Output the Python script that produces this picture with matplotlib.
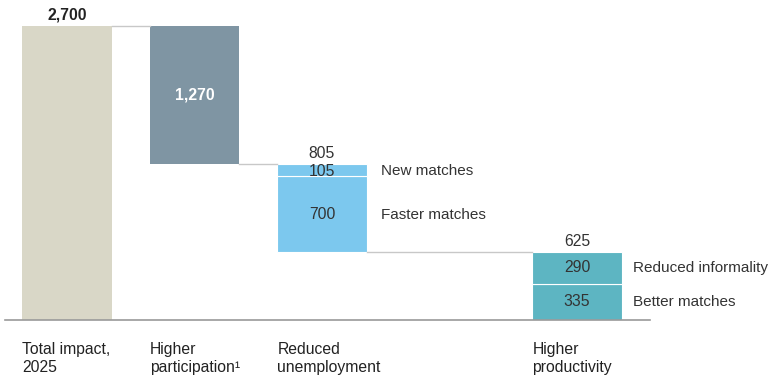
import matplotlib.pyplot as plt

plt.rcParams['font.family'] = ['Liberation Sans', 'DejaVu Sans']

# waterfall data
categories = ['Total impact,\n2025', 'Higher\nparticipation¹', 'Reduced\nunemployment', 'Higher\nproductivity']
positions = [0, 1, 2, 4]
totals = [2700, 1270, 805, 625]
total_labels = ['2,700', '1,270', '805', '625']

unemp_parts = [700, 105]          # bottom to top
unemp_names = ['Faster matches', 'New matches']
prod_parts = [335, 290]           # bottom to top
prod_names = ['Better matches', 'Reduced informality']

c_total = '#d9d7c7'
c_part = '#7f95a3'
c_unemp = '#7cc8ee'
c_prod = '#5db5c2'
c_line = '#c8c8c8'
width = 0.70
fs = 11.3

fig = plt.figure(figsize=(7.71, 3.81), dpi=100)
ax = fig.add_axes([0, 0, 1, 1])
ax.set_xlim(-0.5255, 5.522)
ax.set_ylim(-560.2, 2938.8)
ax.axis('off')

# bar 1: total
ax.bar(positions[0], totals[0], width, color=c_total)
ax.text(positions[0], totals[0] + 30, total_labels[0], ha='center', va='bottom',
        fontsize=fs, fontweight='bold', color='#222222')

# bar 2: higher participation
top2 = totals[0]
bot2 = top2 - totals[1]
ax.bar(positions[1], totals[1], width, bottom=bot2, color=c_part)
ax.text(positions[1], (top2 + bot2) / 2, total_labels[1], ha='center', va='center',
        fontsize=fs, fontweight='bold', color='white')

# bar 3: reduced unemployment, stacked
bot3 = bot2 - totals[2]
b = bot3
for val, name in zip(unemp_parts, unemp_names):
    ax.bar(positions[2], val, width, bottom=b, color=c_unemp, edgecolor='white', linewidth=0.8)
    ax.text(positions[2], b + val / 2 - 10, str(val), ha='center', va='center', fontsize=fs, color='#333333')
    ax.text(positions[2] + 0.46, b + val / 2 - 10, name, ha='left', va='center', fontsize=11, color='#333333')
    b += val
ax.text(positions[2], bot2 + 28, total_labels[2], ha='center', va='bottom', fontsize=fs, color='#333333')

# bar 4: higher productivity, stacked
b = 0
for val, name in zip(prod_parts, prod_names):
    ax.bar(positions[3], val, width, bottom=b, color=c_prod, edgecolor='white', linewidth=0.8)
    ax.text(positions[3], b + val / 2, str(val), ha='center', va='center', fontsize=fs, color='#333333')
    ax.text(positions[3] + 0.44, b + val / 2, name, ha='left', va='center', fontsize=11, color='#333333')
    b += val
ax.text(positions[3], totals[3] + 28, total_labels[3], ha='center', va='bottom', fontsize=fs, color='#333333')

# connectors
ax.plot([positions[0] + width / 2, positions[1] - width / 2], [top2, top2], color=c_line, lw=1)
ax.plot([positions[1] + width / 2, positions[2] - width / 2], [bot2, bot2], color=c_line, lw=1)
ax.plot([positions[2] + width / 2, positions[3] - width / 2], [bot3, bot3], color=c_line, lw=1)

# baseline
ax.plot([-0.486, 4.573], [0, 0], color='#9a9a9a', lw=1.2)

# category labels
for p, lab in zip(positions, categories):
    ax.text(p - width / 2 + 0.0, -200, lab, ha='left', va='top', fontsize=fs,
            color='#222222', linespacing=1.3)

fig.savefig('out.png', dpi=100)
